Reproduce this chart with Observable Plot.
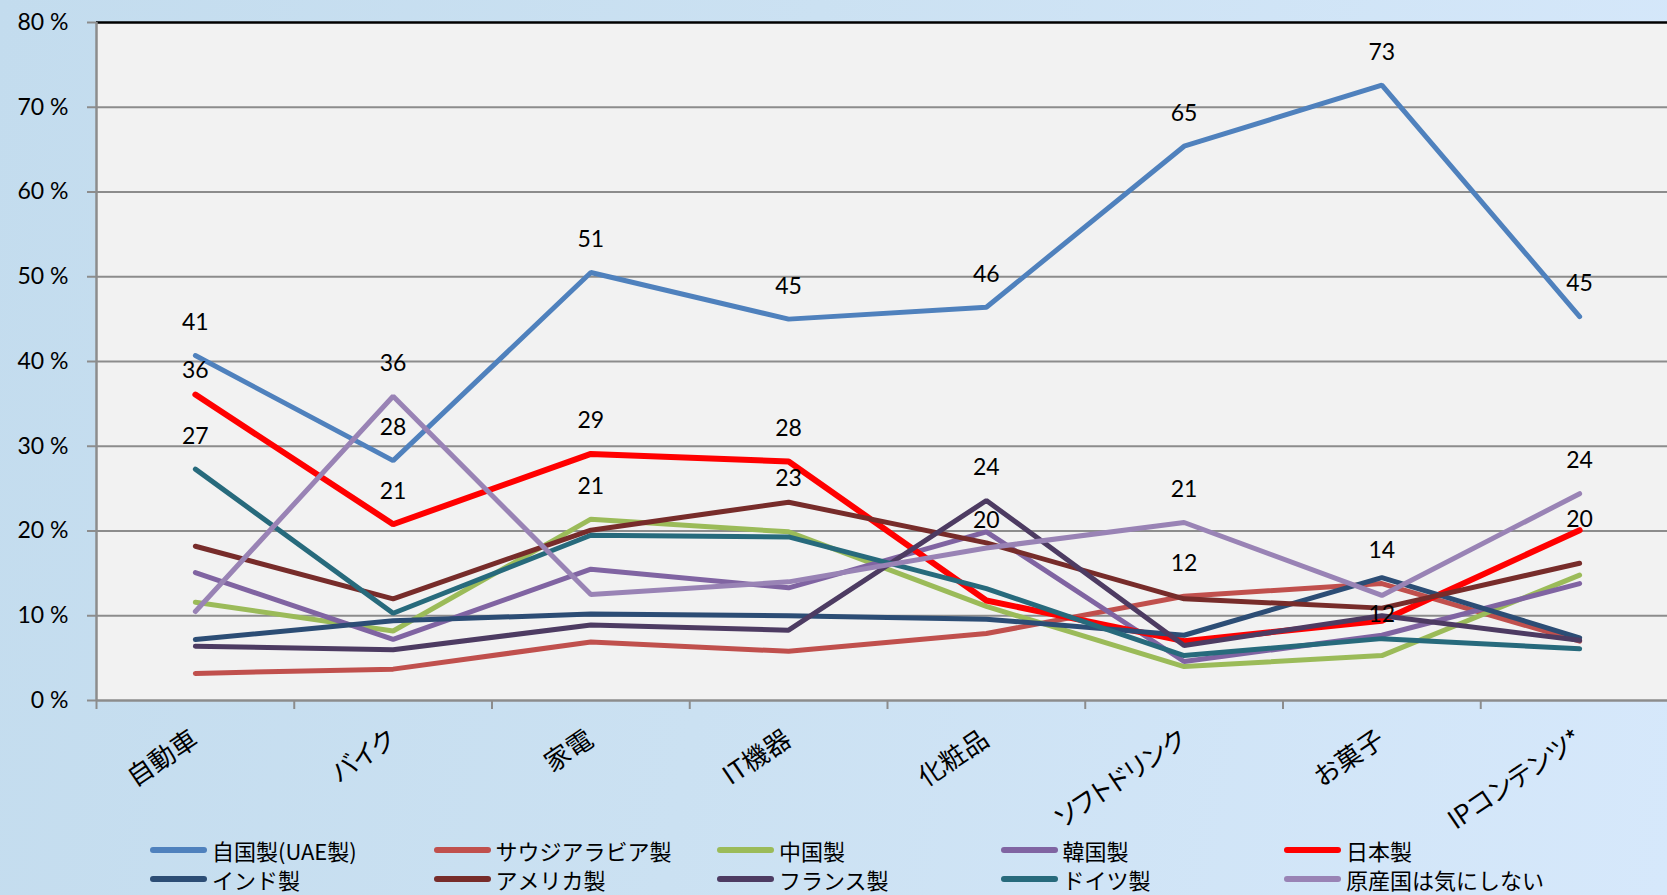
<!DOCTYPE html>
<html><head><meta charset="utf-8">
<script src="https://cdn.jsdelivr.net/npm/d3@7"></script>
<script src="https://cdn.jsdelivr.net/npm/@observablehq/plot@0.6"></script>
<style>
html,body{margin:0;padding:0;overflow:hidden;width:1667px;height:895px;}
body{background:linear-gradient(100deg,#c3dcee 0%,#cbe1f2 45%,#d6e8fb 100%);}
#legend{position:relative;height:57px;top:-3px;}
.item{position:absolute;height:29px;display:flex;align-items:center;font-size:22px;font-family:"Noto Sans CJK JP","Noto Sans",sans-serif;color:#000;white-space:nowrap;}
.swatch{width:57px;height:6px;border-radius:3px;margin-right:5px;}
</style></head><body><div id="chart"></div><div id="legend"></div>
<script>
const categories = ["自動車","バイク","家電","IT機器","化粧品","ソフトドリンク","お菓子","IPコンテンツ*"];
const seriesNames = ["自国製(UAE製)","サウジアラビア製","中国製","韓国製","日本製","インド製","アメリカ製","フランス製","ドイツ製","原産国は気にしない"];
const colors = ["#4f81bd","#c0504d","#9bbb59","#8064a2","#ff0000","#2c4d75","#772c2a","#4d3b62","#276a7c","#9983b5"];
const yTicks = [0,10,20,30,40,50,60,70,80];

const uae      = [40.7,28.3,50.5,45.0,46.4,65.4,72.6,45.3];
const saudi    = [3.2,3.7,6.9,5.8,7.9,12.3,13.8,7.0];
const china    = [11.6,8.2,21.4,19.9,11.1,4.0,5.3,14.8];
const korea    = [15.1,7.2,15.5,13.3,19.9,4.6,7.7,13.8];
const japan    = [36.1,20.8,29.1,28.2,11.8,7.0,9.4,20.1];
const india    = [7.2,9.4,10.2,10.0,9.6,7.7,14.5,7.4];
const america  = [18.2,12.0,20.1,23.4,18.6,12.0,10.9,16.2];
const france   = [6.4,6.0,8.9,8.3,23.6,6.5,10.0,7.1];
const germany  = [27.3,10.3,19.5,19.3,13.2,5.3,7.3,6.1];
const dontCare = [10.5,35.9,12.5,14.0,18.0,21.0,12.4,24.4];
const values = [uae,saudi,china,korea,japan,india,america,france,germany,dontCare];

// which points carry a data label (series, category)
const labelsAbove = [
  ["自国製(UAE製)","自動車"],["自国製(UAE製)","バイク"],["自国製(UAE製)","家電"],["自国製(UAE製)","IT機器"],
  ["自国製(UAE製)","化粧品"],["自国製(UAE製)","ソフトドリンク"],["自国製(UAE製)","お菓子"],["自国製(UAE製)","IPコンテンツ*"],
  ["日本製","バイク"],["日本製","家電"],["日本製","IT機器"],
  ["ドイツ製","自動車"],["中国製","家電"],["フランス製","化粧品"],
  ["原産国は気にしない","バイク"],["原産国は気にしない","ソフトドリンク"],["原産国は気にしない","IPコンテンツ*"],
  ["サウジアラビア製","ソフトドリンク"],["サウジアラビア製","お菓子"]
];
const labelsMid = [["日本製","自動車"],["アメリカ製","IT機器"]];
const labelsClose = [["韓国製","化粧品"],["日本製","IPコンテンツ*"]];
const labelsBelow = [["原産国は気にしない","お菓子"]];

const rows = seriesNames.flatMap((s,i) => values[i].map((v,j) => ({series:s, cat:j, value:v})));
function labelRows(pairs){
  return pairs.map(([s,c]) => {
    const i = seriesNames.indexOf(s), j = categories.indexOf(c);
    return {cat:j, value:values[i][j], text:String(Math.round(values[i][j]))};
  });
}
const bounds = d3.range(-0.5, 8, 1);
const font = "Lato, 'Noto Sans CJK JP', sans-serif";
const labelOpts = (dy) => ({x:"cat", y:"value", text:"text", dy, fontSize:23, fill:"#000", fontFamily:font});

const chart = Plot.plot({
  width:1667, height:838,
  marginLeft:96, marginRight:-11, marginTop:22, marginBottom:138,
  style:{background:"transparent", fontFamily:font, overflow:"visible"},
  x:{domain:[-0.5,7.5]},
  y:{domain:[0,80]},
  color:{domain:seriesNames, range:colors},
  marks:[
    Plot.frame({fill:"#f2f2f2", stroke:"none"}),
    Plot.gridY({ticks:yTicks.slice(1,-1), stroke:"#8c8c8c", strokeOpacity:1, strokeWidth:2}),
    Plot.ruleY([80], {stroke:"#000", strokeWidth:2.5}),
    Plot.ruleY([0], {stroke:"#8c8c8c", strokeWidth:2.5}),
    Plot.ruleX([-0.5], {stroke:"#8c8c8c", strokeWidth:2.5}),
    Plot.axisY({ticks:yTicks, label:null, tickSize:9, tickPadding:19, tickFormat:d => `${d} %`, fontSize:23, stroke:"#8c8c8c", fill:"#000", strokeWidth:2}),
    Plot.axisX({ticks:bounds, label:null, tickSize:9, tickFormat:() => "", stroke:"#8c8c8c", strokeWidth:2}),
    ...seriesNames.map(s => Plot.line(rows.filter(d => d.series === s), {
      x:"cat", y:"value", stroke:"series", strokeWidth: s === "日本製" ? 6 : 5, strokeLinejoin:"miter", strokeLinecap:"round"
    })),
    Plot.text(labelRows(labelsAbove), labelOpts(-33)),
    Plot.text(labelRows(labelsMid), labelOpts(-24)),
    Plot.text(labelRows(labelsClose), labelOpts(-11)),
    Plot.text(labelRows(labelsBelow), labelOpts(19)),
    Plot.text(categories, {x:(d,i) => i, y:() => 0, text:d => d, rotate:-34, textAnchor:"end", lineAnchor:"top",
      dx:-6, dy:28, fontSize:26, fill:"#000", fontFamily:"'Noto Sans CJK JP', sans-serif"})
  ]
});
document.getElementById("chart").appendChild(chart);
chart.querySelectorAll("text").forEach(t => { if (/[\u30a0-\u30ff]/.test(t.textContent)) t.style.fontFeatureSettings = "'palt'"; });

const legend = document.getElementById("legend");
seriesNames.forEach((s,i) => {
  const row = Math.floor(i/5), col = i%5;
  const el = document.createElement("div");
  el.className = "item";
  el.style.left = (150 + col*283.5) + "px";
  el.style.top = (row*29.5) + "px";
  el.innerHTML = `<span class="swatch" style="background:${colors[i]}"></span><span>${s}</span>`;
  legend.appendChild(el);
});
</script></body></html>
